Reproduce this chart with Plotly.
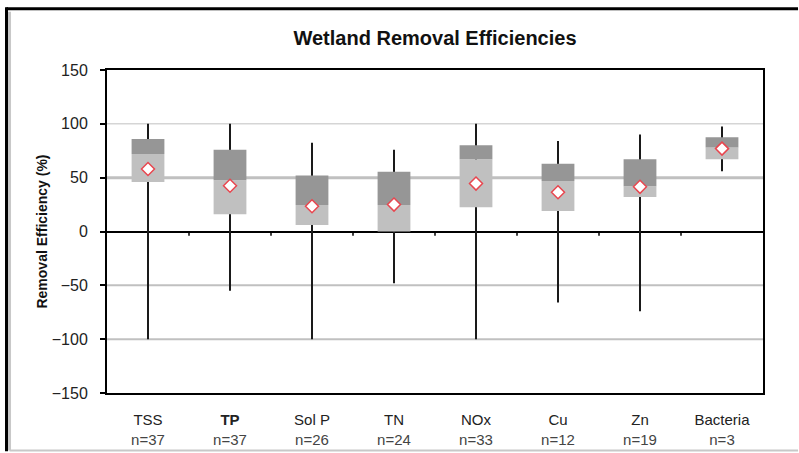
import plotly.graph_objects as go

# pollutant categories and sample counts
pollutants = ['TSS', 'TP', 'Sol P', 'TN', 'NOx', 'Cu', 'Zn', 'Bacteria']
n_counts = [37, 37, 26, 24, 33, 12, 19, 3]

# removal efficiency statistics (%)
min_eff = [-100, -55, -100, -48, -100, -66, -74, 56]
q1_eff = [46, 16, 6, 0, 22.5, 19, 32, 67]
median_eff = [72, 47.5, 24.5, 24.5, 67, 47, 42, 78]
q3_eff = [86, 76, 52, 55.5, 80, 63, 67, 87.5]
max_eff = [100, 100, 82.5, 76, 100, 84, 90, 97.5]
mean_eff = [58, 42.5, 23.5, 25, 44.5, 36.5, 41.5, 77]

grid_lines = {100: 1, 50: 3, -50: 2, -100: 2}

tick_text = []
for name, n in zip(pollutants, n_counts):
    label = '<b>%s</b>' % name if name == 'TP' else name
    tick_text.append(label + '<br><span style="color:#444">n=%d</span>' % n)

fig = go.Figure()

# whiskers (min to max), drawn first so the boxes sit on top
fig.add_trace(go.Bar(
    x=pollutants,
    base=min_eff,
    y=[hi - lo for hi, lo in zip(max_eff, min_eff)],
    width=0.018,
    marker_color='#1a1a1a',
    marker_line_width=0,
    hoverinfo='skip',
))
# lower half of box: Q1 -> median
fig.add_trace(go.Bar(
    x=pollutants,
    base=q1_eff,
    y=[m - q for m, q in zip(median_eff, q1_eff)],
    width=0.4,
    marker_color='#c0c0c0',
    marker_line_width=0,
))
# upper half of box: median -> Q3
fig.add_trace(go.Bar(
    x=pollutants,
    base=median_eff,
    y=[q - m for q, m in zip(q3_eff, median_eff)],
    width=0.4,
    marker_color='#969696',
    marker_line_width=0,
))
# mean
fig.add_trace(go.Scatter(
    x=pollutants,
    y=mean_eff,
    mode='markers',
    marker=dict(symbol='diamond', size=10, color='white',
                line=dict(color='#e8464f', width=1.5)),
))

for val, w in grid_lines.items():
    fig.add_hline(y=val, line_color='#c0c0c0', line_width=w, layer='below')

# small ticks between categories on the zero line
for i in range(1, len(pollutants)):
    fig.add_shape(type='line', xref='x', yref='y', x0=i - 0.5, x1=i - 0.5,
                  y0=0, y1=-4, line=dict(color='black', width=1.5))

# outer frame of the picture (kept inside the paper)
fig.add_shape(type='line', xref='paper', yref='paper', x0=-0.1486, x1=-0.1486,
              y0=-0.178, y1=1.18, line=dict(color='#c8c8c8', width=3))
fig.add_shape(type='line', xref='paper', yref='paper', x0=-0.1486, x1=1.0534,
              y0=-0.178, y1=-0.178, line=dict(color='#c8c8c8', width=2))
fig.add_shape(type='line', xref='paper', yref='paper', x0=-0.1532, x1=1.0534,
              y0=1.19, y1=1.19, line=dict(color='black', width=3))
fig.add_shape(type='line', xref='paper', yref='paper', x0=-0.1532, x1=-0.1532,
              y0=-0.18, y1=1.194, line=dict(color='black', width=3))

fig.update_layout(
    width=799, height=453,
    barmode='overlay',
    showlegend=False,
    plot_bgcolor='white',
    paper_bgcolor='white',
    margin=dict(l=107, r=36, t=70, b=60),
    font=dict(family='Liberation Sans, Arial, sans-serif', color='#222', size=15),
    title=dict(text='<b>Wetland Removal Efficiencies</b>', x=0.5, xanchor='center',
               xref='paper', y=0.916, yanchor='middle',
               font=dict(size=20, color='#111')),
)
fig.update_xaxes(
    range=[-0.5, 7.5],
    tickvals=pollutants, ticktext=tick_text,
    ticks='', showgrid=False,
    showline=True, linecolor='black', linewidth=2, mirror=True,
    tickfont=dict(size=15),
    ticklabelstandoff=12,
    automargin=False,
)
fig.update_yaxes(
    range=[-150, 150], tickvals=[-150, -100, -50, 0, 50, 100, 150],
    ticktext=['\u2212150', '\u2212100', '\u221250', '0', '50', '100', '150'],
    showgrid=False,
    zeroline=True, zerolinecolor='black', zerolinewidth=1.5,
    showline=True, linecolor='black', linewidth=2, mirror=True,
    ticks='outside', ticklen=5, tickcolor='black', tickwidth=2,
    ticklabelstandoff=9,
    tickfont=dict(size=16),
    title=dict(text='<b>Removal Efficiency (%)</b>', font=dict(size=14, color='#111'),
               standoff=1),
    automargin=False,
)

fig.write_html("out.html", config={'displayModeBar': False},
               post_script="document.body.style.margin='0';")
